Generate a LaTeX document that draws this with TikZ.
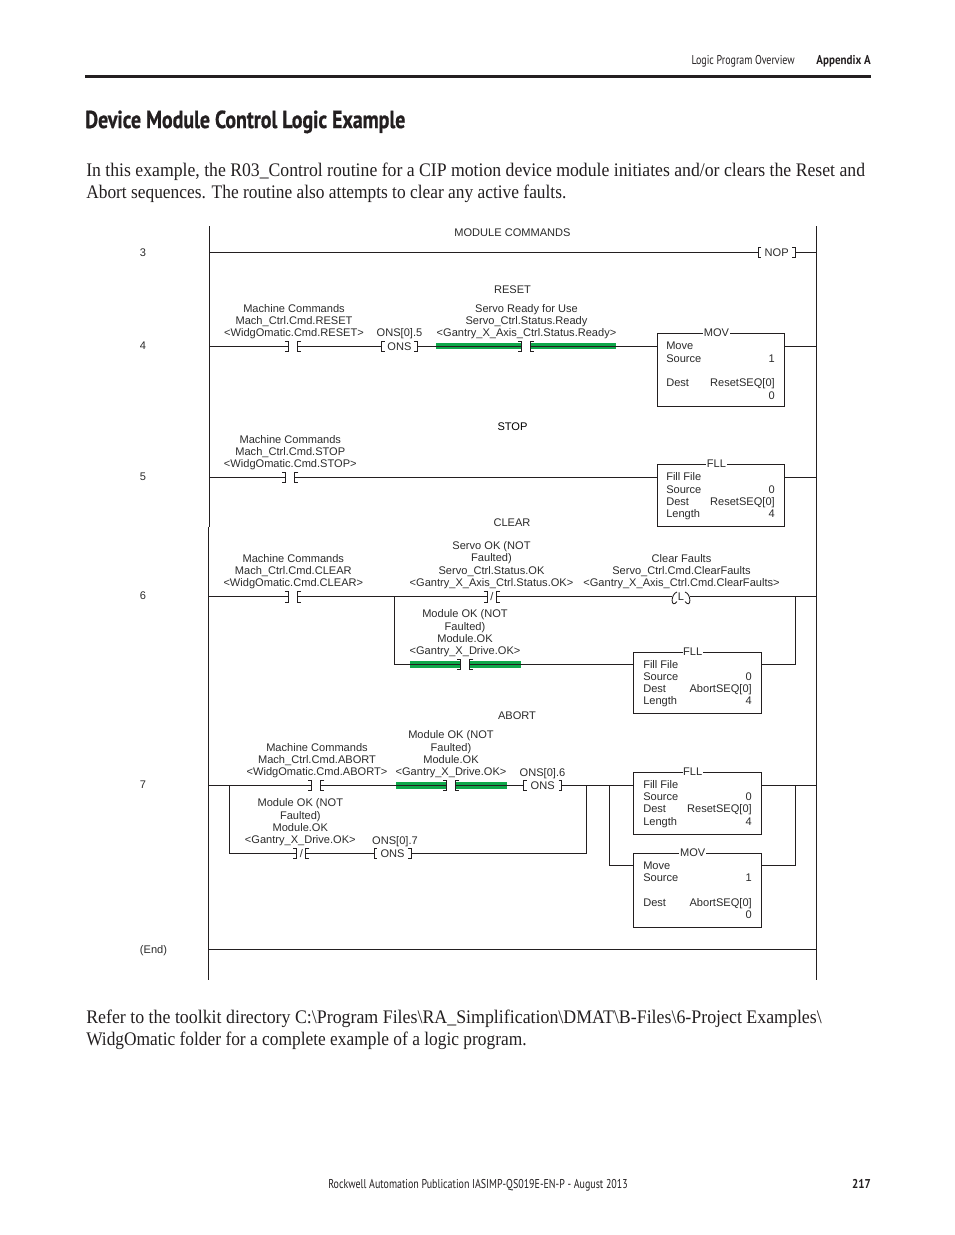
\documentclass[tikz,border=0pt]{standalone}
\usepackage{fontspec}
\setmainfont[FakeStretch=0.93]{Liberation Serif}
\newfontfamily\bodyA[FakeStretch=0.922]{Liberation Serif}
\newfontfamily\bodyB[FakeStretch=0.905]{Liberation Serif}
\newfontfamily\diagfont{Liberation Sans}
\newfontfamily\headfont[FakeStretch=0.805,BoldFeatures={FakeBold=0.7}]{PT Sans}
\newfontfamily\smallfont[FakeStretch=0.78]{PT Sans}
\newfontfamily\smallbold[FakeStretch=0.86]{PT Sans}
\definecolor{ink}{HTML}{231F20}
\definecolor{rungink}{HTML}{2B2B2B}
\definecolor{energized}{HTML}{0FA84A}
\tikzset{
  wire/.style={draw=ink,line width=0.65pt},
  hot/.style={draw=none,fill=energized},
  lbl/.style={font=\diagfont\fontsize{8.3}{9.2}\selectfont,text=rungink,inner sep=0pt,align=center,yshift=-0.6pt},
  rowl/.style={font=\diagfont\fontsize{8.3}{9.2}\selectfont,text=rungink,inner sep=0pt,anchor=mid west,yshift=-0.6pt},
  rowr/.style={font=\diagfont\fontsize{8.3}{9.2}\selectfont,text=rungink,inner sep=0pt,anchor=mid east,yshift=-0.6pt},
  line/.style={lbl,anchor=mid},
  rungtitle/.style={line,yshift=-0.5pt},
  instr/.style={draw=ink,line width=0.65pt,fill=white,inner sep=0pt,outer sep=0pt,anchor=north west},
  boxtitle/.style={lbl,anchor=mid,fill=white,inner xsep=0.5pt,inner ysep=1pt,yshift=0.3pt},
  cont/.style={inner sep=0pt,outer sep=0pt,minimum width=6.9pt,minimum height=8pt},
  ons/.style={lbl,outer sep=0pt,minimum height=8pt,yshift=0.6pt},
  para/.style={font=\fontsize{14.4}{16.2}\selectfont,text=ink,inner sep=0pt,align=left,anchor=north west},
}
% normally open / closed contact: name, x, y, inner text
\newcommand\contact[4]{%
  \node[cont,lbl,yshift=0.6pt,font=\diagfont\fontsize{8.3}{9.2}\selectfont] (#1) at (#2,#3) {#4};
  \draw[wire] (#1.north west) ++(-3.5,0) -- (#1.north west) -- (#1.south west) -- ++(-3.5,0);
  \draw[wire] (#1.north east) ++(3.5,0) -- (#1.north east) -- (#1.south east) -- ++(3.5,0);
}
% bracketed output instruction: name, centre x, y, width pt, text
\newcommand\bracket[5]{%
  \node[ons,minimum width=#4] (#1) at (#2,#3) {#5};
  \draw[wire] (#1.north west) ++(3,0) -- (#1.north west) -- (#1.south west) -- ++(3,0);
  \draw[wire] (#1.north east) ++(-3,0) -- (#1.north east) -- (#1.south east) -- ++(-3,0);
}
\begin{document}
\begin{tikzpicture}[x=0.75pt,y=-0.75pt]
\useasboundingbox (0,0) rectangle (954,1235);
% page furniture
\fill[ink] (85,74.6) rectangle (871,77.6);
\node[anchor=mid east,inner sep=0pt,text=ink,font=\smallfont\fontsize{9.6}{11}\selectfont] (hl) at (795,61.5) {Logic Program Overview};
\node[anchor=mid east,inner sep=0pt,text=ink,font=\smallbold\bfseries\fontsize{9.6}{11}\selectfont] (hr) at (871,61.5) {Appendix A};
\node[anchor=mid west,inner sep=0pt,text=ink,font=\headfont\bfseries\fontsize{18.5}{20}\selectfont] (title) at (85,125) {Device Module Control Logic Example};
\node[para] (p1) at (86,163) {\frenchspacing\bodyA In this example, the R03\_Control routine for a CIP motion device module initiates and/or clears the Reset and\\\bodyB Abort sequences. The routine also attempts to clear any active faults.};
\node[para] (p2) at (86,1010) {\frenchspacing Refer to the toolkit directory C:\textbackslash Program Files\textbackslash RA\_Simplification\textbackslash DMAT\textbackslash B-Files\textbackslash 6-Project Examples\textbackslash\\\bodyB WidgOmatic folder for a complete example of a logic program.};
\node[anchor=mid west,inner sep=0pt,text=ink,font=\smallfont\fontsize{9.6}{11}\selectfont] (fl) at (328,1185.5) {Rockwell Automation Publication IASIMP-QS019E-EN-P - August 2013};
\node[anchor=mid east,inner sep=0pt,text=ink,font=\smallbold\bfseries\fontsize{9.6}{11}\selectfont] (fr) at (871,1185.5) {217};

% rails
\coordinate (rt) at (209.4,226); \coordinate (rm) at (209.4,526.7);
\coordinate (rm2) at (208.4,526.7); \coordinate (rb) at (208.4,980);
\coordinate (qt) at (816.6,226); \coordinate (qb) at (816.6,980);
\draw[wire] (rt) -- (rm); \draw[wire] (rm2) -- (rb); \draw[wire] (qt) -- (qb);

% rung numbers
\node[line] (n3) at (143,252.5) {3};
\node[line] (n4) at (143,345.5) {4};
\node[line] (n5) at (143,476.5) {5};
\node[line] (n6) at (143,595.5) {6};
\node[line] (n7) at (143,784.5) {7};
\node[line] (nE) at (153.5,949.7) {(End)};

% rung titles
\node[rungtitle] (t3) at (512.5,232) {MODULE COMMANDS};
\node[rungtitle] (t4) at (512.5,289) {RESET};
\node[rungtitle,text=black] (t5) at (512.5,426) {STOP};
\node[rungtitle] (t6) at (512,522) {CLEAR};
\node[rungtitle] (t7) at (517,715) {ABORT};

% ---- rung 3
\coordinate (l3) at (209.4,252.5); \coordinate (r3) at (816.6,252.5);
\bracket{nop}{776.7}{252.5}{27.5pt}{NOP}
\draw[wire] (l3) -- (nop.west); \draw[wire] (nop.east) -- (r3);

% ---- rung 4
\coordinate (l4) at (209.4,346.3); \coordinate (r4) at (816.6,346.3);
\fill[hot] (436,342.9) rectangle (521.4,349.2);
\fill[hot] (530.6,342.9) rectangle (616,349.2);
\contact{c4a}{293}{346.3}{}
\bracket{o45}{399.4}{346.3}{26.4pt}{ONS}
\contact{c4b}{526}{346.3}{}
\node[instr,minimum width=95.5pt,minimum height=55.2pt] (m4) at (657.3,333.3) {};
\node[boxtitle] (m4t) at (716.5,333.3) {MOV};
\draw[wire] (l4) -- (c4a.west);
\draw[wire] (c4a.east) -- (o45.west);
\draw[wire] (o45.east) -- (c4b.west);
\draw[wire] (c4b.east) -- (m4.west |- c4b.east);
\draw[wire] (m4.east |- r4) -- (r4);
\node[lbl] (a4a) at (294,321) {Machine Commands\\Mach\_Ctrl.Cmd.RESET\\\textless WidgOmatic.Cmd.RESET\textgreater};
\node[line] (a4b) at (399.5,333) {ONS[0].5};
\node[lbl] (a4c) at (526.5,321) {Servo Ready for Use\\Servo\_Ctrl.Status.Ready\\\textless Gantry\_X\_Axis\_Ctrl.Status.Ready\textgreater};
\node[rowl] at (666,345.8) {Move};
\node[rowl] at (666,358.5) {Source};
\node[rowr] at (775,358.5) {1};
\node[rowl] at (666,382.8) {Dest};
\node[rowr] at (775,382.8) {ResetSEQ[0]};
\node[rowr] at (775,395.3) {0};

% ---- rung 5
\coordinate (l5) at (209.4,477.4); \coordinate (r5) at (816.6,477.4);
\contact{c5a}{290.3}{477.4}{}
\node[instr,minimum width=95.5pt,minimum height=47pt] (m5) at (657.3,464) {};
\node[boxtitle] (m5t) at (716.5,464) {FLL};
\draw[wire] (l5) -- (c5a.west);
\draw[wire] (c5a.east) -- (m5.west |- c5a.east);
\draw[wire] (m5.east |- r5) -- (r5);
\node[lbl] (a5a) at (290.3,452) {Machine Commands\\Mach\_Ctrl.Cmd.STOP\\\textless WidgOmatic.Cmd.STOP\textgreater};
\node[rowl] at (666,476.5) {Fill File};
\node[rowl] at (666,489.3) {Source};
\node[rowr] at (775,489.3) {0};
\node[rowl] at (666,501.5) {Dest};
\node[rowr] at (775,501.5) {ResetSEQ[0]};
\node[rowl] at (666,513.5) {Length};
\node[rowr] at (775,513.5) {4};

% ---- rung 6
\coordinate (l6) at (208.4,596.8); \coordinate (r6) at (816.6,596.8);
\coordinate (b6l) at (394.7,596.8); \coordinate (b6r) at (795.4,596.8);
\coordinate (d6l) at (394.7,664.4); \coordinate (d6r) at (795.4,664.4);
\fill[hot] (410,661.1) rectangle (460.6,667.6);
\fill[hot] (470,661.1) rectangle (520.7,667.6);
\contact{c6a}{293}{596.8}{}
\contact{c6b}{492}{596.8}{/}
\contact{c6d}{465.3}{664.4}{}
\node[lbl,yshift=0.6pt,outer sep=0pt,minimum width=13.5pt,minimum height=7pt] (coil) at (681,596.8) {L};
\draw[wire] (coil.center) ++(-4,-4.8) .. controls +(-6.5,1.8) and +(-6.5,7.8) .. +(0,9.6);
\draw[wire] (coil.center) ++(4,-4.8) .. controls +(6.5,1.8) and +(6.5,7.8) .. +(0,9.6);
\node[instr,minimum width=96.3pt,minimum height=45.8pt] (m6) at (633.4,652.3) {};
\node[boxtitle] (m6t) at (692.7,652.3) {FLL};
\draw[wire] (l6) -- (c6a.west);
\draw[wire] (c6a.east) -- (c6b.west);
\draw[wire] (c6b.east) -- (coil.west);
\draw[wire] (coil.east) -- (r6);
\draw[wire] (b6l) -- (d6l) -- (c6d.west);
\draw[wire] (c6d.east) -- (m6.west |- d6l);
\draw[wire] (m6.east |- d6r) -- (d6r) -- (b6r);
\node[lbl] (a6a) at (293.3,570.7) {Machine Commands\\Mach\_Ctrl.Cmd.CLEAR\\\textless WidgOmatic.Cmd.CLEAR\textgreater};
\node[lbl] (a6b) at (491.5,564.4) {Servo OK (NOT\\Faulted)\\Servo\_Ctrl.Status.OK\\\textless Gantry\_X\_Axis\_Ctrl.Status.OK\textgreater};
\node[lbl] (a6c) at (681.5,570.7) {Clear Faults\\Servo\_Ctrl.Cmd.ClearFaults\\\textless Gantry\_X\_Axis\_Ctrl.Cmd.ClearFaults\textgreater};
\node[lbl] (a6d) at (465,632.7) {Module OK (NOT\\Faulted)\\Module.OK\\\textless Gantry\_X\_Drive.OK\textgreater};
\node[rowl] at (643,664.3) {Fill File};
\node[rowl] at (643,676.5) {Source};
\node[rowr] at (752,676.5) {0};
\node[rowl] at (643,688.5) {Dest};
\node[rowr] at (752,688.5) {AbortSEQ[0]};
\node[rowl] at (643,701) {Length};
\node[rowr] at (752,701) {4};

% ---- rung 7
\coordinate (l7) at (208.4,785.3); \coordinate (r7) at (816.6,785.3);
\coordinate (b7a) at (229.4,785.3); \coordinate (d7a) at (229.4,853.3);
\coordinate (b7b) at (586.7,785.3); \coordinate (d7b) at (586.7,853.3);
\coordinate (b7c) at (609.4,785.3); \coordinate (d7c) at (609.4,865.4);
\coordinate (b7d) at (795.7,785.3); \coordinate (d7d) at (795.7,865.4);
\fill[hot] (396,782) rectangle (446.6,788.5);
\fill[hot] (456,782) rectangle (506.7,788.5);
\contact{c7a}{316.2}{785.3}{}
\contact{c7b}{451}{785.3}{}
\bracket{o76}{542.7}{785.3}{28.2pt}{ONS}
\contact{c7d}{301.3}{853.3}{/}
\bracket{o77}{392.6}{853.3}{27.8pt}{ONS}
\node[instr,minimum width=96.3pt,minimum height=46.2pt] (m7) at (633.4,772.4) {};
\node[boxtitle] (m7t) at (692.7,772.4) {FLL};
\node[instr,minimum width=96.3pt,minimum height=55.4pt] (m8) at (633.4,853.4) {};
\node[boxtitle] (m8t) at (692.7,853.4) {MOV};
\draw[wire] (l7) -- (c7a.west);
\draw[wire] (c7a.east) -- (c7b.west);
\draw[wire] (c7b.east) -- (o76.west);
\draw[wire] (o76.east) -- (m7.west |- l7);
\draw[wire] (m7.east |- r7) -- (r7);
\draw[wire] (b7a) -- (d7a) -- (c7d.west);
\draw[wire] (c7d.east) -- (o77.west);
\draw[wire] (o77.east) -- (d7b) -- (b7b);
\draw[wire] (b7c) -- (d7c) -- (m8.west |- d7c);
\draw[wire] (m8.east |- d7d) -- (d7d) -- (b7d);
\node[lbl] (a7a) at (317,760) {Machine Commands\\Mach\_Ctrl.Cmd.ABORT\\\textless WidgOmatic.Cmd.ABORT\textgreater};
\node[lbl] (a7b) at (451,753.6) {Module OK (NOT\\Faulted)\\Module.OK\\\textless Gantry\_X\_Drive.OK\textgreater};
\node[line] (a7c) at (542.5,772.5) {ONS[0].6};
\node[lbl] (a7d) at (300.3,821.6) {Module OK (NOT\\Faulted)\\Module.OK\\\textless Gantry\_X\_Drive.OK\textgreater};
\node[line] (a7e) at (395,840.5) {ONS[0].7};
\node[rowl] at (643,784.5) {Fill File};
\node[rowl] at (643,797) {Source};
\node[rowr] at (752,797) {0};
\node[rowl] at (643,809) {Dest};
\node[rowr] at (752,809) {ResetSEQ[0]};
\node[rowl] at (643,821.5) {Length};
\node[rowr] at (752,821.5) {4};
\node[rowl] at (643,865.5) {Move};
\node[rowl] at (643,877.5) {Source};
\node[rowr] at (752,877.5) {1};
\node[rowl] at (643,902.7) {Dest};
\node[rowr] at (752,902.7) {AbortSEQ[0]};
\node[rowr] at (752,914.7) {0};

% end rung
\coordinate (lE) at (208.4,949.3); \coordinate (rE) at (816.6,949.3);
\draw[wire] (lE) -- (rE);
\end{tikzpicture}
\end{document}
